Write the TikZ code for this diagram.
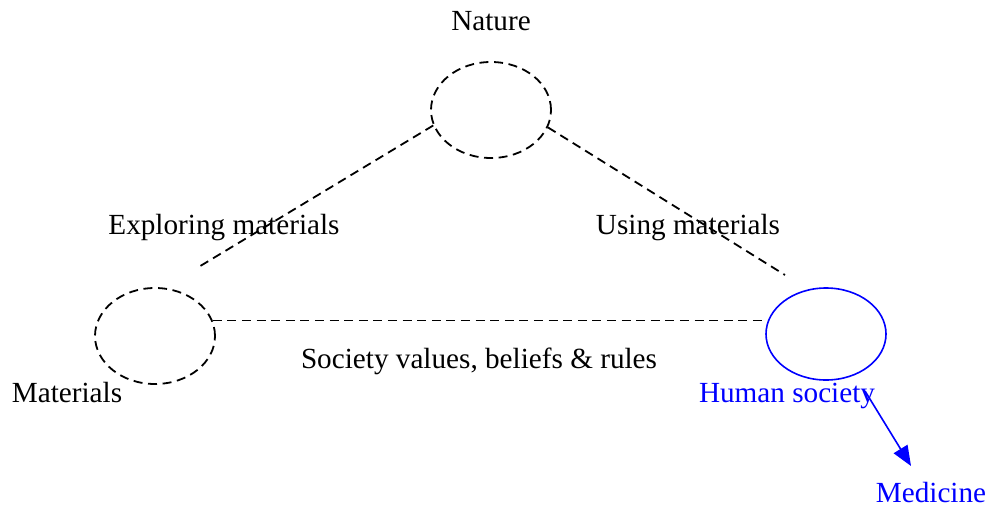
\documentclass[tikz,border=0pt]{standalone}
\usepackage{fontspec}
\setmainfont{Liberation Serif}
\usepackage{xcolor}
\definecolor{colLink}{HTML}{0000FF}
\definecolor{colText}{HTML}{000000}
\usetikzlibrary{arrows.meta, shapes.geometric}

\begin{document}
\begin{tikzpicture}[x=0.5pt, y=-0.5pt,
        font=\fontsize{14.6}{17}\selectfont,
        dashlink/.style={dash pattern=on 4.5pt off 2.8pt, line width=0.9pt, colText},
        oval/.style={ellipse, minimum width=60pt, minimum height=48pt, inner sep=0pt},
        lbl/.style={anchor=base, inner sep=0pt}]
        \useasboundingbox (0,0) rectangle (988,508);

        % === Ellissi ===
        \node[oval, draw, dashlink] (nature) at (491,110) {};
        \node[oval, draw, dashlink] (materials) at (155,336) {};
        \node[oval, draw=colLink, line width=0.8pt, minimum height=46pt] (society) at (826,334) {};

        % Estremi liberi
        \coordinate (explend) at (197,268);
        \coordinate (useend) at (785,275);
        \coordinate (medtail) at (865,391);
        \coordinate (medtip) at (911,466);

        % === Collegamenti ===
        \draw[dashlink] (nature.195) -- (explend);
        \draw[dashlink] (nature.-17) -- (useend);
        \draw[dashlink] (materials.15) -- (materials.15 -| society.west);

        % Etichette
        \node[lbl] (naturelbl) at (491,31) {Nature};
        \node[lbl] (explore) at (224,234) {Exploring materials};
        \node[lbl] (using) at (688,234) {Using materials};
        \node[lbl] (values) at (479,368) {Society values, beliefs \& rules};
        \node[lbl] (matlbl) at (67,402) {Materials};
        \node[lbl, colLink] (societylbl) at (787,402) {Human society};
        \node[lbl, colLink] (medicine) at (931,502) {Medicine};

        % Freccia verso Medicine
        \draw[colLink, line width=0.8pt, -{Triangle[length=10pt, width=8pt]}]
            (medtail) -- (medtip);
\end{tikzpicture}
\end{document}
